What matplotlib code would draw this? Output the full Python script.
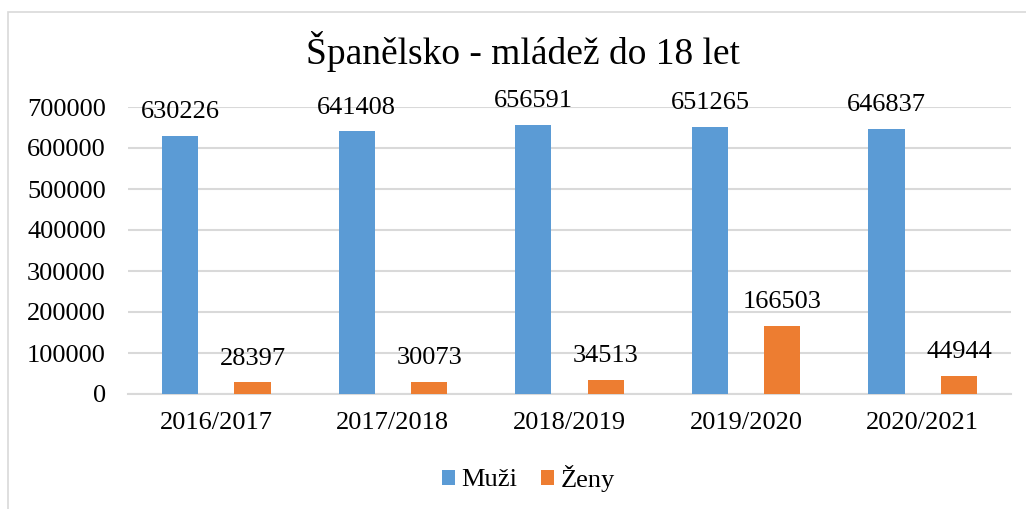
import matplotlib.pyplot as plt
import numpy as np
from matplotlib.patches import Rectangle

years = ["2016/2017", "2017/2018", "2018/2019", "2019/2020", "2020/2021"]
muzi = [630226, 641408, 656591, 651265, 646837]
zeny = [28397, 30073, 34513, 166503, 44944]

plt.rcParams['font.family'] = ['Liberation Serif', 'DejaVu Serif']

fig = plt.figure(figsize=(10.26, 5.09), dpi=100)
ax = fig.add_axes([128/1026, 1-394/509, (1011-128)/1026, (394-107)/509])

x = np.arange(len(years))
w = 0.205
b1 = ax.bar(x - w, muzi, w, color='#5B9BD5', label='Muži', zorder=3)
b2 = ax.bar(x + w, zeny, w, color='#ED7D31', label='Ženy', zorder=3)

for bars, vals in ((b1, muzi), (b2, zeny)):
    for r, v in zip(bars, vals):
        ax.annotate(str(v), (r.get_x() + r.get_width()/2, v), xytext=(0, 9),
                    textcoords='offset points', ha='center', va='bottom', fontsize=19)

ax.set_xlim(-0.5, len(years) - 0.5)
ax.set_ylim(0, 700000)
ax.set_yticks(range(0, 700001, 100000))
ax.set_yticklabels([str(v) for v in range(0, 700001, 100000)])
ax.set_xticks(x)
ax.set_xticklabels(years)
ax.tick_params(axis='y', length=0, pad=16, labelsize=19)
ax.tick_params(axis='x', length=0, pad=13, labelsize=19)
ax.grid(axis='y', color='#D9D9D9', linewidth=1.5, zorder=0)
for s in ['top', 'right', 'left']:
    ax.spines[s].set_visible(False)
ax.spines['bottom'].set_color('#D9D9D9')
ax.spines['bottom'].set_linewidth(1.5)

fig.text(0.51, 1-52/509, "Španělsko - mládež do 18 let", ha='center', va='center', fontsize=27)

fig.legend(handles=[b1, b2], loc='center', bbox_to_anchor=(0.515, 1-478/509), ncol=2,
           frameon=False, fontsize=19, handlelength=0.5, handleheight=0.5,
           handletextpad=0.25, columnspacing=0.9)

fig.patches.append(Rectangle((8/1026, -0.1), 1.2, 0.1 + 1-12/509, transform=fig.transFigure,
                             fill=False, edgecolor='#D9D9D9', linewidth=1.2))

fig.savefig('out.png', dpi=100)
